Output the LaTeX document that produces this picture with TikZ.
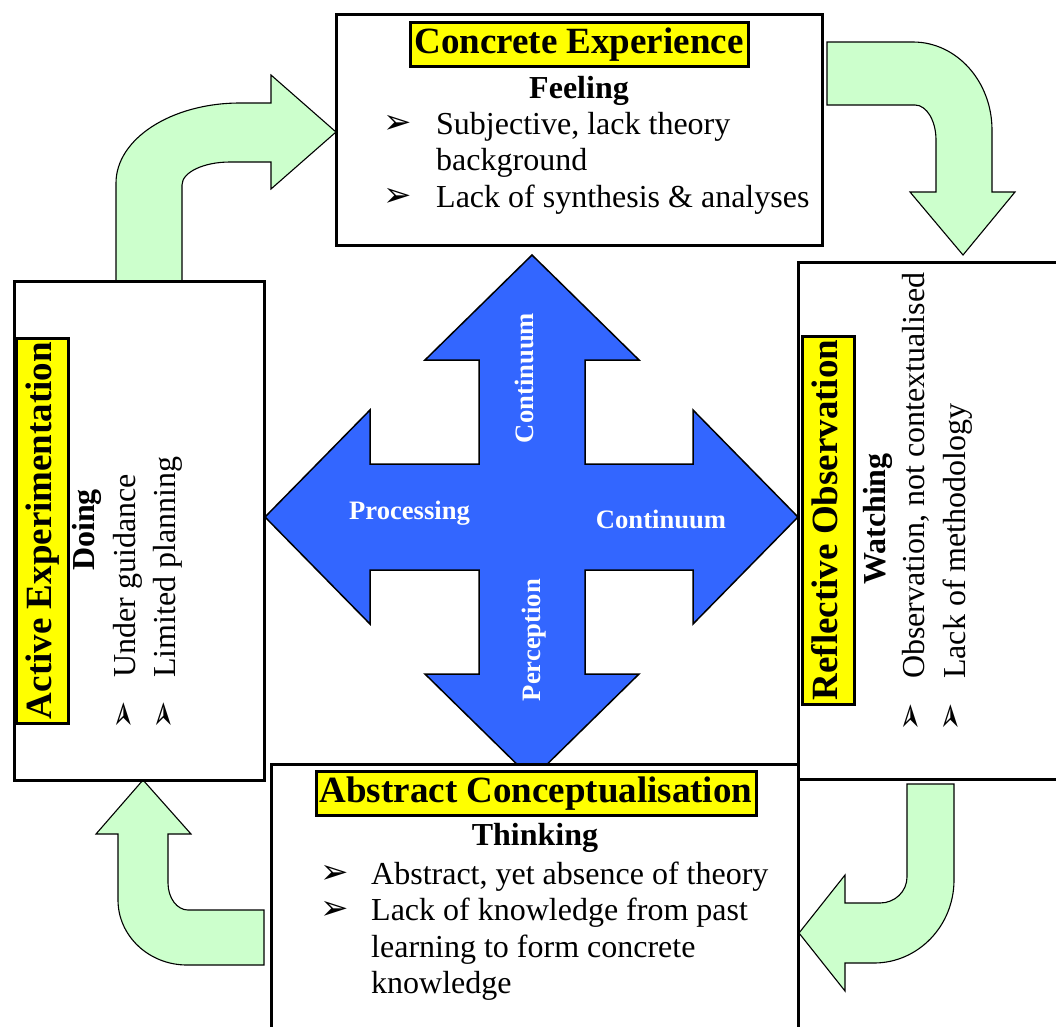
\documentclass[tikz,border=0pt]{standalone}
\usepackage{fontspec}
\setmainfont{Liberation Serif}
\newfontfamily\symfont{DejaVu Sans}
\definecolor{hlyellow}{HTML}{FFFF00}
\definecolor{cyclegreen}{HTML}{CCFFCC}
\definecolor{crossblue}{HTML}{3366FF}
\tikzset{
  box/.style={draw=black, line width=3pt, fill=white, inner sep=0pt},
  titlebox/.style={draw=black, line width=3pt, fill=hlyellow, inner sep=0pt,
    font=\fontsize{37}{40}\selectfont\bfseries, text height=26pt, text depth=8pt},
  heading/.style={font=\fontsize{32}{36}\selectfont\bfseries, inner sep=0pt},
  bodytext/.style={font=\fontsize{32}{36}\selectfont, inner sep=0pt, anchor=base west},
  bul/.style={font=\symfont\fontsize{34}{36}\selectfont, inner sep=0pt},
  crosslbl/.style={font=\fontsize{26.6}{30}\selectfont\bfseries, text=white, inner sep=0pt},
  greenarrow/.style={draw=black, line width=1.1pt, fill=cyclegreen, line join=miter},
  crossarrow/.style={draw=black, line width=1.5pt, fill=crossblue, line join=miter}
}
\begin{document}
\begin{tikzpicture}[x=1pt,y=-1pt]
\useasboundingbox (0,0) rectangle (1056,1026);
\clip (0,0) rectangle (1056,1026);

% green cycle arrows
\draw[greenarrow] (116,281) -- (116,183) .. controls (116,138.8) and (171.5,103) .. (240,103)
  -- (271,103) -- (271,75) -- (336,132) -- (271,189) -- (271,162) -- (230,162)
  .. controls (203.5,162) and (182,172.3) .. (182,185) -- (182,281) -- cycle;
\draw[greenarrow] (827,42) -- (913,42) .. controls (956.6,42) and (992,81.4) .. (992,130)
  -- (992,192) -- (1015,192) -- (963,255) -- (910,192) -- (936,192) -- (936,140)
  .. controls (936,120.7) and (926.6,105) .. (915,105) -- (827,105) -- cycle;
\draw[greenarrow] (907,784) -- (954,784) -- (954,880) .. controls (954,925.8) and (918.2,963) .. (874,963)
  -- (845,963) -- (845,991) -- (799,933) -- (845,875) -- (845,903) -- (880,903)
  .. controls (894.9,903) and (907,891.4) .. (907,877) -- cycle;
\draw[greenarrow] (264,910) -- (188,910) .. controls (177,910) and (168,897.9) .. (168,883)
  -- (168,834) -- (191,834) -- (143,780) -- (96,834) -- (118,834) -- (118,900)
  .. controls (118,935.9) and (148.9,965) .. (187,965) -- (264,965) -- cycle;

% central cross
\draw[crossarrow] (532,255) -- (639,360) -- (585,360) -- (585,464) -- (693,464) -- (693,410)
  -- (798,517) -- (693,624) -- (693,570) -- (585,570) -- (585,674) -- (639,674)
  -- (532,779) -- (425,674) -- (479,674) -- (479,570) -- (370,570) -- (370,624)
  -- (265,517) -- (370,410) -- (370,464) -- (479,464) -- (479,360) -- (425,360) -- cycle;
\node[crosslbl, rotate=90] (contup) at (524,378) {Continuum};
\node[crosslbl] (proc) at (409.5,513) {Processing};
\node[crosslbl] (contright) at (661,519) {Continuum};
\node[crosslbl, rotate=90] (perc) at (534,640) {Perception};

% boxes
\node[box, minimum width=486pt, minimum height=231pt] (ce) at (579,129.5) {};
\node[box, minimum width=250pt, minimum height=499pt] (ae) at (139,530.5) {};
\node[box, minimum width=290pt, minimum height=517pt] (ro) at (943,520.5) {};
\node[box, minimum width=527pt, minimum height=290pt] (ac) at (534.5,909) {};

% Concrete Experience
\node[titlebox, minimum width=338pt, minimum height=44pt] (cet) at (579,44) {Concrete Experience};
\node[heading, anchor=base] (cef) at (579,98) {Feeling};
\node[bul] (ceb1) at (398,124) {➢};
\node[bodytext] (cel1) at (436,134) {Subjective, lack theory};
\node[bodytext] (cel2) at (436,170.5) {background};
\node[bul] (ceb2) at (398,197) {➢};
\node[bodytext] (cel3) at (436,207) {Lack of synthesis \& analyses};

% Abstract Conceptualisation
\node[titlebox, minimum width=440pt, minimum height=44pt] (act) at (536,793) {Abstract Conceptualisation};
\node[heading, anchor=base] (acf) at (535,845) {Thinking};
\node[bul] (acb1) at (335,874) {➢};
\node[bodytext] (acl1) at (371,884) {Abstract, yet absence of theory};
\node[bul] (acb2) at (335,910) {➢};
\node[bodytext] (acl2) at (371,920.5) {Lack of knowledge from past};
\node[bodytext] (acl3) at (371,957) {learning to form concrete};
\node[bodytext] (acl4) at (371,993.5) {knowledge};

% Active Experimentation
\node[titlebox, rotate=90, minimum width=385pt, minimum height=52pt] (aet) at (42,530.5) {Active Experimentation};
\node[heading, rotate=90] (aef) at (87,530) {Doing};
\node[bul, rotate=90] (aeb1) at (125,715) {➢};
\node[bodytext, rotate=90] (ael1) at (135,678) {Under guidance};
\node[bul, rotate=90] (aeb2) at (165,715) {➢};
\node[bodytext, rotate=90] (ael2) at (175,678) {Limited planning};

% Reflective Observation
\node[titlebox, rotate=90, minimum width=368pt, minimum height=52pt] (rot) at (828,520) {Reflective Observation};
\node[heading, rotate=90] (rof) at (878,519) {Watching};
\node[bul, rotate=90] (rob1) at (912,717) {➢};
\node[bodytext, rotate=90] (rol1) at (924,679) {Observation, not contextualised};
\node[bul, rotate=90] (rob2) at (952,717) {➢};
\node[bodytext, rotate=90] (rol2) at (965,679) {Lack of methodology};
\end{tikzpicture}
\end{document}
